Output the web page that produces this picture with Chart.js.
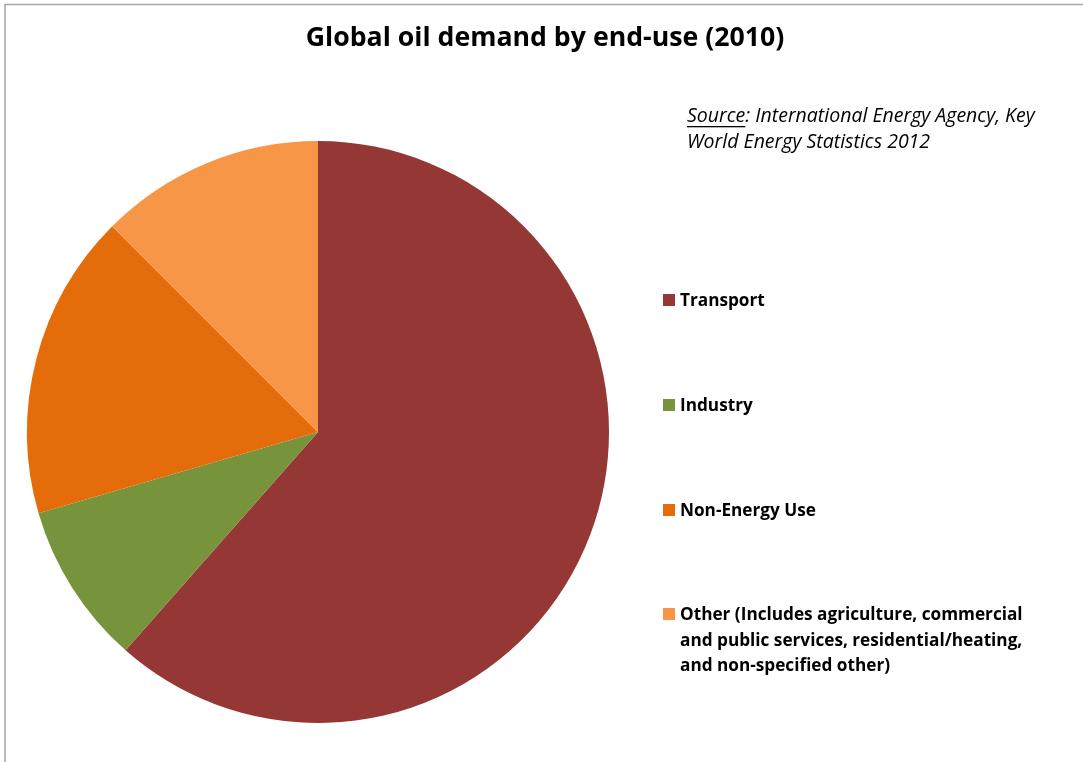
<!DOCTYPE html>
<html>
<head>
<meta charset="utf-8">
<script src="https://cdn.jsdelivr.net/npm/chart.js@4"></script>
<style>
  html, body { margin: 0; padding: 0; background: #fff; }
  #wrap { width: 1083px; height: 762px; position: relative; }
</style>
</head>
<body>
<div id="wrap"><canvas id="oilChart" width="1083" height="762"></canvas></div>
<script>
// data (share of global oil demand, %)
const categories = ['Transport', 'Industry', 'Non-Energy Use', 'Other'];
const legendLines = [
    ['Transport'],
    ['Industry'],
    ['Non-Energy Use'],
    ['Other (Includes agriculture, commercial', 'and public services, residential/heating,', 'and non-specified other)']
];
const shares = [61.5, 9.0, 17.0, 12.5];
const sliceColors = ['#953735', '#77933C', '#E46C0A', '#F79646'];

const chartTitle = 'Global oil demand by end-use (2010)';
const sourceLabel = 'Source';
const sourceRest = [': International Energy Agency, Key', 'World Energy Statistics 2012'];

const fontFamily = '"Open Sans", Lato, "Noto Sans", sans-serif';

// frame, title, source note and legend drawn on the canvas
const decorPlugin = {
    id: 'decor',
    beforeDraw(chart) {
        const ctx = chart.ctx;
        ctx.save();
        ctx.strokeStyle = '#a6a6a6';
        ctx.lineWidth = 1.5;
        ctx.beginPath();
        ctx.moveTo(5, chart.height);
        ctx.lineTo(5, 4.5);
        ctx.lineTo(chart.width, 4.5);
        ctx.stroke();
        ctx.restore();
    },
    afterDraw(chart) {
        const ctx = chart.ctx;
        ctx.save();
        ctx.fillStyle = '#000';
        ctx.textBaseline = 'middle';

        // title
        ctx.font = 'bold 26.7px ' + fontFamily;
        ctx.textAlign = 'center';
        ctx.fillText(chartTitle, 545, 38);

        // source note
        ctx.textAlign = 'left';
        ctx.font = 'italic 19.5px ' + fontFamily;
        const sx = 687;
        ctx.fillText(sourceLabel, sx, 116);
        const sw = ctx.measureText(sourceLabel).width;
        ctx.fillRect(sx, 126, sw, 1.3);
        ctx.fillText(sourceRest[0], sx + sw, 116);
        ctx.fillText(sourceRest[1], sx, 142);

        // legend
        const ys = [300, 405, 510, 614];
        ctx.font = 'bold 17.2px ' + fontFamily;
        const colors = chart.data.datasets[0].backgroundColor;
        chart.data.labels.forEach((label, i) => {
            ctx.fillStyle = colors[i];
            ctx.fillRect(663, ys[i] - 6, 12, 12);
            ctx.fillStyle = '#000';
            legendLines[i].forEach((line, j) => {
                ctx.fillText(line, 680, ys[i] + 1.5 + j * 25.5);
            });
        });
        ctx.restore();
    }
};

const ctx = document.getElementById('oilChart').getContext('2d');
new Chart(ctx, {
    type: 'pie',
    data: {
        labels: categories,
        datasets: [{
            data: shares,
            backgroundColor: sliceColors,
            borderWidth: 0
        }]
    },
    options: {
        responsive: false,
        animation: false,
        layout: {
            padding: { left: 27, right: 474, top: 141, bottom: 39 }
        },
        plugins: {
            legend: { display: false },
            title: { display: false },
            tooltip: { enabled: false }
        }
    },
    plugins: [decorPlugin]
});
</script>
</body>
</html>
